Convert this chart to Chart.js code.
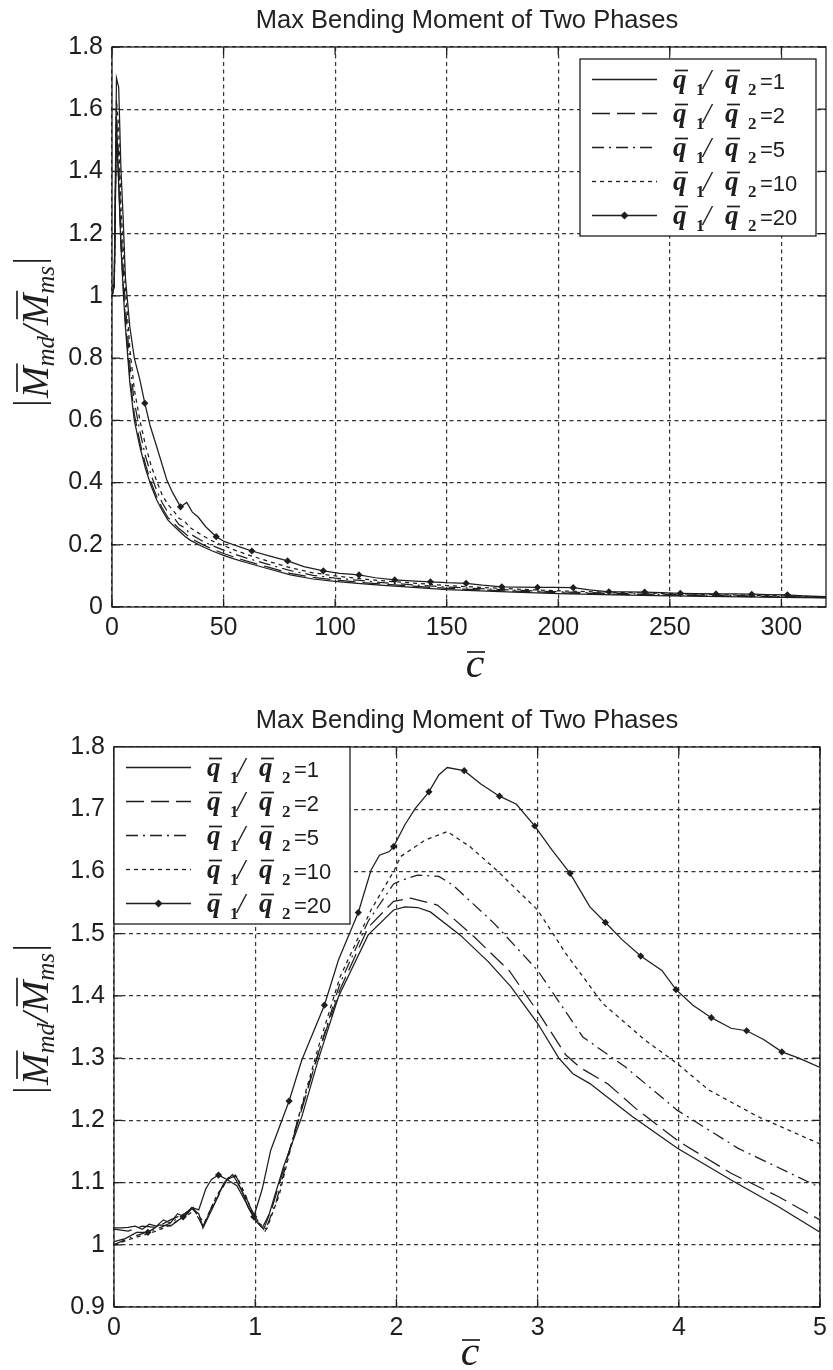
<!DOCTYPE html>
<html>
<head>
<meta charset="utf-8">
<script src="https://cdn.jsdelivr.net/npm/chart.js@4.4.0/dist/chart.umd.min.js"></script>
<style>
body { margin: 0; background: #fff; }
canvas { display: block; }
</style>
</head>
<body>
<canvas id="wide" width="833" height="685"></canvas>
<canvas id="zoom" width="833" height="685"></canvas>
<script>
// q1/q2 ratios shown in the legends
var ratios = [1, 2, 5, 10, 20];

// upper chart: c from 0 to 320
var cTop = [0, 1, 2, 3, 4, 5, 6, 8, 10, 12.5, 15, 17.5, 20, 22.5, 25, 27.5, 30, 32.5, 35, 40, 45, 50, 55, 60, 70, 80, 90, 100, 110, 120, 135, 150, 165, 180, 200, 225, 250, 275, 300, 320];
var top1 = [1.03, 1.04, 1.54, 1.36, 1.16, 1.02, 0.9, 0.72, 0.6, 0.515, 0.445, 0.39, 0.345, 0.31, 0.28, 0.262, 0.245, 0.228, 0.215, 0.196, 0.18, 0.166, 0.154, 0.143, 0.123, 0.103, 0.09, 0.082, 0.076, 0.07, 0.063, 0.056, 0.052, 0.048, 0.043, 0.039, 0.036, 0.033, 0.031, 0.029];
var top2 = [1.03, 1.035, 1.555, 1.37, 1.17, 1.04, 0.92, 0.74, 0.62, 0.53, 0.458, 0.4, 0.355, 0.318, 0.288, 0.27, 0.252, 0.238, 0.222, 0.203, 0.186, 0.172, 0.16, 0.148, 0.128, 0.108, 0.095, 0.087, 0.08, 0.074, 0.067, 0.06, 0.055, 0.051, 0.046, 0.041, 0.038, 0.035, 0.032, 0.03];
var top5 = [1.0, 1.03, 1.59, 1.44, 1.22, 1.09, 0.97, 0.78, 0.66, 0.565, 0.485, 0.425, 0.375, 0.335, 0.305, 0.29, 0.265, 0.255, 0.235, 0.214, 0.197, 0.183, 0.17, 0.158, 0.137, 0.117, 0.102, 0.093, 0.086, 0.079, 0.071, 0.064, 0.059, 0.054, 0.049, 0.044, 0.04, 0.037, 0.034, 0.031];
var top10 = [1.0, 1.02, 1.63, 1.54, 1.29, 1.16, 1.03, 0.83, 0.7, 0.6, 0.52, 0.455, 0.405, 0.36, 0.33, 0.31, 0.285, 0.276, 0.255, 0.232, 0.212, 0.197, 0.183, 0.17, 0.147, 0.126, 0.11, 0.1, 0.092, 0.085, 0.077, 0.069, 0.063, 0.058, 0.052, 0.047, 0.043, 0.039, 0.036, 0.032];
var cTop20 = [0, 1, 2, 3, 4, 5, 6, 8, 10, 12.5, 14.7, 17, 20, 24.5, 27, 30.7, 33.5, 36, 38.5, 42, 46.7, 50.5, 54.5, 58.5, 62.7, 70, 78.7, 86, 94.7, 102, 110.7, 118, 126.7, 134, 142.7, 150, 158.7, 166, 174.7, 182, 190.7, 198, 206.7, 214, 222.7, 230, 238.7, 246, 254.7, 262, 270.7, 278, 286.7, 294, 302.7, 310, 320];
var top20 = [1.0, 1.04, 1.70, 1.67, 1.41, 1.25, 1.06, 0.9, 0.8, 0.73, 0.655, 0.585, 0.516, 0.41, 0.37, 0.322, 0.336, 0.305, 0.29, 0.258, 0.226, 0.21, 0.2, 0.19, 0.18, 0.165, 0.148, 0.13, 0.116, 0.108, 0.103, 0.094, 0.087, 0.084, 0.081, 0.078, 0.076, 0.07, 0.065, 0.064, 0.063, 0.063, 0.062, 0.055, 0.049, 0.049, 0.048, 0.046, 0.044, 0.043, 0.042, 0.042, 0.041, 0.04, 0.039, 0.036, 0.033];
var markTop = [14.7, 30.7, 46.7, 62.7, 78.7, 94.7, 110.7, 126.7, 142.7, 158.7, 174.7, 190.7, 206.7, 222.7, 238.7, 254.7, 270.7, 286.7, 302.7];

// lower chart: c from 0 to 5
var cBot1 = [0, 0.05, 0.1, 0.15, 0.2, 0.25, 0.3, 0.35, 0.4, 0.45, 0.5, 0.55, 0.6, 0.63, 0.7, 0.78, 0.84, 0.9, 0.95, 1.0, 1.05, 1.1, 1.2, 1.33, 1.45, 1.59, 1.8, 1.98, 2.06, 2.15, 2.24, 2.45, 2.65, 2.81, 3.0, 3.15, 3.25, 3.37, 3.67, 3.99, 4.37, 4.7, 5.0];
var bot1 = [1.027, 1.027, 1.028, 1.03, 1.025, 1.033, 1.03, 1.04, 1.035, 1.05, 1.045, 1.058, 1.05, 1.027, 1.06, 1.1, 1.113, 1.09, 1.06, 1.04, 1.027, 1.05, 1.125, 1.206, 1.30, 1.399, 1.498, 1.538, 1.543, 1.542, 1.535, 1.498, 1.455, 1.415, 1.356, 1.30, 1.275, 1.259, 1.206, 1.155, 1.104, 1.062, 1.02];
var cBot2 = [0, 0.1, 0.2, 0.3, 0.4, 0.5, 0.56, 0.63, 0.72, 0.8, 0.85, 0.92, 1.0, 1.06, 1.12, 1.2, 1.32, 1.45, 1.6, 1.8, 1.98, 2.1, 2.29, 2.4, 2.55, 2.8, 3.0, 3.2, 3.3, 3.5, 3.7, 4.0, 4.37, 4.7, 5.0];
var bot2 = [1.025, 1.022, 1.03, 1.028, 1.04, 1.05, 1.06, 1.03, 1.07, 1.105, 1.11, 1.08, 1.045, 1.025, 1.06, 1.12, 1.21, 1.31, 1.41, 1.51, 1.552, 1.557, 1.546, 1.525, 1.495, 1.44, 1.375, 1.305, 1.285, 1.258, 1.218, 1.166, 1.115, 1.078, 1.04];
var cBot5 = [0, 0.1, 0.2, 0.3, 0.4, 0.5, 0.56, 0.63, 0.72, 0.8, 0.86, 0.93, 1.0, 1.07, 1.15, 1.3, 1.45, 1.6, 1.8, 1.98, 2.04, 2.15, 2.3, 2.4, 2.69, 3.0, 3.32, 3.62, 3.99, 4.42, 5.0];
var bot5 = [1.0, 1.01, 1.018, 1.025, 1.035, 1.05, 1.058, 1.03, 1.075, 1.105, 1.112, 1.08, 1.04, 1.022, 1.07, 1.2, 1.31, 1.42, 1.52, 1.58, 1.586, 1.594, 1.592, 1.578, 1.517, 1.441, 1.334, 1.286, 1.216, 1.155, 1.092];
var cBot10 = [0, 0.1, 0.2, 0.3, 0.4, 0.5, 0.57, 0.64, 0.73, 0.81, 0.87, 0.94, 1.0, 1.08, 1.17, 1.3, 1.45, 1.6, 1.82, 1.985, 2.03, 2.2, 2.36, 2.52, 2.71, 3.0, 3.2, 3.46, 3.76, 3.99, 4.21, 4.56, 5.0];
var bot10 = [1.0, 1.008, 1.015, 1.022, 1.032, 1.045, 1.055, 1.035, 1.08, 1.108, 1.11, 1.075, 1.04, 1.025, 1.08, 1.2, 1.32, 1.43, 1.538, 1.602, 1.624, 1.65, 1.664, 1.64, 1.602, 1.538, 1.468, 1.388, 1.329, 1.291, 1.249, 1.206, 1.162];
var cBot20 = [0, 0.08, 0.16, 0.24, 0.32, 0.4, 0.49, 0.55, 0.6, 0.65, 0.69, 0.74, 0.8, 0.87, 0.93, 0.99, 1.05, 1.11, 1.24, 1.33, 1.49, 1.59, 1.73, 1.82, 1.88, 1.95, 1.98, 2.06, 2.13, 2.23, 2.3, 2.36, 2.48, 2.6, 2.73, 2.85, 2.98, 3.1, 3.23, 3.37, 3.48, 3.6, 3.73, 3.88, 3.98, 4.1, 4.23, 4.37, 4.48, 4.6, 4.73, 4.85, 5.0];
var bot20 = [1.005, 1.01, 1.02, 1.02, 1.032, 1.03, 1.045, 1.06, 1.056, 1.09, 1.105, 1.112, 1.105, 1.095, 1.07, 1.045, 1.09, 1.152, 1.231, 1.297, 1.385, 1.458, 1.534, 1.602, 1.626, 1.632, 1.64, 1.675, 1.70, 1.728, 1.755, 1.767, 1.762, 1.74, 1.721, 1.708, 1.673, 1.635, 1.597, 1.543, 1.518, 1.49, 1.464, 1.441, 1.41, 1.385, 1.365, 1.348, 1.344, 1.33, 1.31, 1.3, 1.285];
var markBot = [0.24, 0.49, 0.74, 0.99, 1.24, 1.49, 1.73, 1.98, 2.23, 2.48, 2.73, 2.98, 3.23, 3.48, 3.73, 3.98, 4.23, 4.48, 4.73];

var ink = '#1e1e1e';
var sans = '"Liberation Sans", Arial, sans-serif';
var serif = '"Liberation Serif", "Times New Roman", serif';
var dashes = [[], [18, 7], [12, 5, 2, 5], [4, 4], []];

function pts(xs, ys) {
  return xs.map(function (x, i) { return { x: x, y: ys[i] }; });
}

function makeSets(series, marks) {
  return series.map(function (s, k) {
    return {
      data: pts(s[0], s[1]),
      borderColor: ink,
      borderWidth: 1.25,
      borderDash: dashes[k],
      tension: 0,
      fill: false,
      pointStyle: 'rectRot',
      pointBackgroundColor: ink,
      pointBorderColor: ink,
      pointBorderWidth: 0,
      pointHoverRadius: 0,
      pointRadius: k === 4 ? function (ctx) {
        var r = ctx.raw;
        return r && marks.indexOf(r.x) >= 0 ? 3.6 : 0;
      } : 0
    };
  });
}

function fmt(v) { return String(Math.round(v * 10) / 10); }

function axes(xmin, xmax, xstep, ymin, ymax, ystep, yw, xh) {
  var tickFont = { family: sans, size: 25 };
  return {
    x: {
      type: 'linear', min: xmin, max: xmax,
      ticks: { stepSize: xstep, includeBounds: false, color: ink, font: tickFont, padding: 6, maxRotation: 0, autoSkip: false, callback: fmt },
      grid: { color: '#333', lineWidth: 1.2, drawTicks: false },
      border: { display: false, dash: [4, 3.5] },
      afterFit: function (s) { s.height = xh; }
    },
    y: {
      type: 'linear', min: ymin, max: ymax,
      ticks: { stepSize: ystep, includeBounds: false, color: ink, font: tickFont, padding: 9, autoSkip: false, callback: fmt },
      grid: { color: '#333', lineWidth: 1.2, drawTicks: false },
      border: { display: false, dash: [4, 3.5] },
      afterFit: function (s) { s.width = yw; }
    }
  };
}

function overline(ctx, x1, x2, y) {
  ctx.beginPath();
  ctx.lineWidth = 1.7;
  ctx.moveTo(x1, y);
  ctx.lineTo(x2, y);
  ctx.stroke();
}

// "q̄ 1 / q̄ 2 = n" label of one legend row
function qLabel(ctx, x, yc, n) {
  ctx.textAlign = 'left';
  ctx.textBaseline = 'alphabetic';
  ctx.font = 'bold italic 27px ' + serif;
  ctx.fillText('q', x, yc + 8);
  overline(ctx, x + 2, x + 15, yc - 9);
  ctx.font = 'bold 17px ' + serif;
  ctx.fillText('1', x + 23, yc + 15);
  ctx.font = 'italic 29px ' + serif;
  ctx.fillText('/', x + 30, yc + 9);
  ctx.font = 'bold italic 27px ' + serif;
  ctx.fillText('q', x + 52, yc + 8);
  overline(ctx, x + 54, x + 67, yc - 9);
  ctx.font = 'bold 17px ' + serif;
  ctx.fillText('2', x + 75, yc + 15);
  ctx.font = '22px ' + sans;
  ctx.fillText('=' + n, x + 87, yc + 9);
}

function drawLegend(ctx, L) {
  ctx.save();
  ctx.fillStyle = '#fff';
  ctx.fillRect(L.x, L.y, 236, 177);
  ctx.strokeStyle = ink;
  ctx.lineWidth = 1.3;
  ctx.setLineDash([]);
  ctx.strokeRect(L.x, L.y, 236, 177);
  ratios.forEach(function (r, k) {
    var yc = L.y + 20.5 + k * 34;
    ctx.beginPath();
    ctx.lineWidth = 1.3;
    ctx.setLineDash(dashes[k]);
    ctx.moveTo(L.x + 12, yc);
    ctx.lineTo(L.x + 77, yc);
    ctx.stroke();
    ctx.setLineDash([]);
    if (k === 4) {
      ctx.beginPath();
      ctx.moveTo(L.x + 44.5, yc - 4);
      ctx.lineTo(L.x + 48.5, yc);
      ctx.lineTo(L.x + 44.5, yc + 4);
      ctx.lineTo(L.x + 40.5, yc);
      ctx.closePath();
      ctx.fillStyle = ink;
      ctx.fill();
    }
    ctx.fillStyle = ink;
    qLabel(ctx, L.x + 93, yc, r);
  });
  ctx.restore();
}

// |M̄md / M̄ms| written upward
function yTitle(ctx, x, y) {
  ctx.save();
  ctx.translate(x, y);
  ctx.rotate(-Math.PI / 2);
  ctx.fillStyle = ink;
  ctx.strokeStyle = ink;
  ctx.textAlign = 'left';
  ctx.textBaseline = 'alphabetic';
  var big = 'italic 38px ' + serif, sub = 'italic 25px ' + serif;
  ctx.font = big;
  var wM = ctx.measureText('M').width, wS = ctx.measureText('/').width;
  ctx.font = sub;
  var wmd = ctx.measureText('md').width, wms = ctx.measureText('ms').width;
  var total = 2 * wM + wS + wmd + wms + 16;
  var u = -total / 2;
  function bar(at) {
    ctx.beginPath();
    ctx.lineWidth = 1.7;
    ctx.moveTo(at, -35);
    ctx.lineTo(at, 3);
    ctx.stroke();
  }
  bar(u + 1);
  u += 6;
  ctx.font = big;
  ctx.fillText('M', u, 0);
  overline(ctx, u + 6, u + wM + 3, -31);
  u += wM;
  ctx.font = sub;
  ctx.fillText('md', u, 6);
  u += wmd;
  ctx.font = big;
  ctx.fillText('/', u, 0);
  u += wS;
  ctx.fillText('M', u, 0);
  overline(ctx, u + 6, u + wM + 3, -31);
  u += wM;
  ctx.font = sub;
  ctx.fillText('ms', u, 6);
  u += wms + 4;
  bar(u + 1);
  ctx.restore();
}

function xTitle(ctx, x, y) {
  ctx.save();
  ctx.fillStyle = ink;
  ctx.strokeStyle = ink;
  ctx.font = 'italic 42px ' + serif;
  ctx.textAlign = 'center';
  ctx.textBaseline = 'alphabetic';
  ctx.fillText('c', x, y);
  overline(ctx, x - 8, x + 10, y - 25);
  ctx.restore();
}

var deco = {
  id: 'deco',
  afterDraw: function (chart, args, o) {
    var ctx = chart.ctx, a = chart.chartArea;
    var sx = chart.scales.x, sy = chart.scales.y;
    ctx.save();
    ctx.strokeStyle = ink;
    ctx.lineWidth = 1.3;
    ctx.setLineDash([]);
    ctx.strokeRect(a.left, a.top, a.right - a.left, a.bottom - a.top);
    ctx.beginPath();
    sx.ticks.forEach(function (t) {
      var p = sx.getPixelForValue(t.value);
      ctx.moveTo(p, a.bottom); ctx.lineTo(p, a.bottom - 8);
      ctx.moveTo(p, a.top); ctx.lineTo(p, a.top + 8);
    });
    sy.ticks.forEach(function (t) {
      var p = sy.getPixelForValue(t.value);
      ctx.moveTo(a.left, p); ctx.lineTo(a.left + 8, p);
      ctx.moveTo(a.right, p); ctx.lineTo(a.right - 8, p);
    });
    ctx.stroke();
    ctx.restore();

    drawLegend(ctx, o.legend);

    ctx.save();
    ctx.fillStyle = '#222';
    ctx.font = '25.5px ' + sans;
    ctx.textAlign = 'center';
    ctx.textBaseline = 'alphabetic';
    ctx.fillText('Max Bending Moment of Two Phases', 467, o.titleY);
    ctx.restore();

    xTitle(ctx, o.xlab[0], o.xlab[1]);
    yTitle(ctx, o.ylab[0], o.ylab[1]);
  }
};

function build(id, sets, sc, pad, decoOpts) {
  return new Chart(document.getElementById(id), {
    type: 'line',
    data: { datasets: sets },
    plugins: [deco],
    options: {
      responsive: false,
      animation: false,
      devicePixelRatio: 1,
      layout: { padding: pad, autoPadding: false },
      scales: sc,
      plugins: { legend: { display: false }, tooltip: { enabled: false }, deco: decoOpts }
    }
  });
}

build('wide',
  makeSets([[cTop, top1], [cTop, top2], [cTop, top5], [cTop, top10], [cTop20, top20]], markTop),
  axes(0, 320, 50, 0, 1.8, 0.2, 112, 78),
  { left: 0, right: 7, top: 47, bottom: 0 },
  { titleY: 28, legend: { x: 580, y: 59 }, xlab: [475, 677], ylab: [48, 330] });

build('zoom',
  makeSets([[cBot1, bot1], [cBot2, bot2], [cBot5, bot5], [cBot10, bot10], [cBot20, bot20]], markBot),
  axes(0, 5, 1, 0.9, 1.8, 0.1, 114, 63),
  { left: 0, right: 7, top: 62, bottom: 0 },
  { titleY: 43, legend: { x: 114, y: 62 }, xlab: [470, 680], ylab: [48, 332] });
</script>
</body>
</html>
